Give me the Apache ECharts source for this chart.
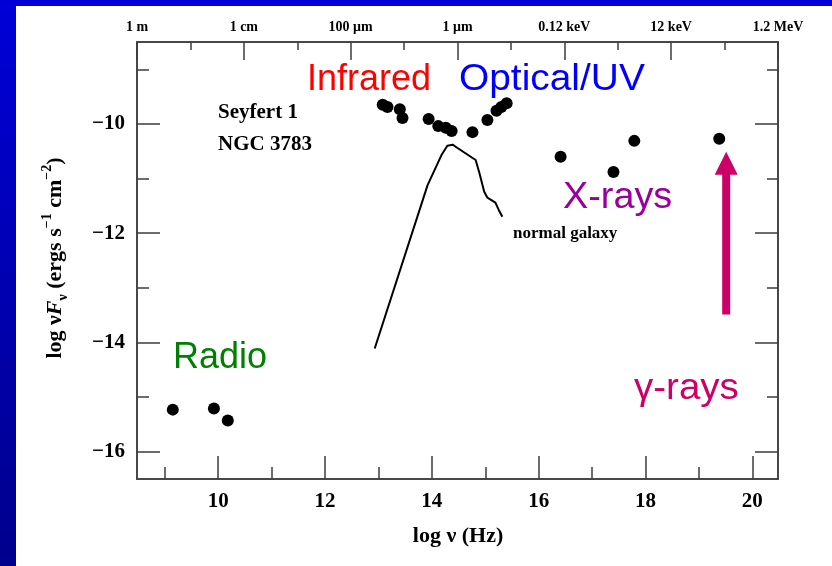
<!DOCTYPE html>
<html>
<head>
<meta charset="utf-8">
<script src="https://cdn.jsdelivr.net/npm/echarts@6/dist/echarts.min.js"></script>
<style>
  html, body { margin: 0; padding: 0; background: #ffffff; }
  #chart { width: 832px; height: 566px; }
</style>
</head>
<body>
<div id="chart"></div>
<script>
// Spectral energy distribution of NGC 3783: log nu (Hz) vs log nuF_nu (erg s^-1 cm^-2)
const radioNu = [9.15, 9.92, 10.18];
const radioFlux = [-15.23, -15.21, -15.43];

const irOpticalNu = [13.08, 13.17, 13.40, 13.45, 13.94, 14.12, 14.26, 14.37, 14.76, 15.04, 15.21, 15.30, 15.40];
const irOpticalFlux = [-9.65, -9.69, -9.73, -9.89, -9.91, -10.04, -10.07, -10.13, -10.15, -9.93, -9.76, -9.69, -9.62];

const xrayNu = [16.41, 17.40, 17.79, 19.38];
const xrayFlux = [-10.60, -10.88, -10.31, -10.27];

// template spectrum of a normal galaxy
const galaxyNu = [12.93, 13.92, 14.18, 14.29, 14.39, 14.48, 14.65, 14.82, 14.89, 14.98, 15.04, 15.19, 15.25, 15.32];
const galaxyFlux = [-14.11, -11.12, -10.57, -10.40, -10.38, -10.44, -10.55, -10.66, -10.90, -11.24, -11.35, -11.44, -11.57, -11.70];

// gamma-ray lower limit: [log nu, from, to]
const gammaLimit = [19.51, -13.49, -10.51];

// axis ranges and ticks
const X_MIN = 8.48, X_MAX = 20.48;
const Y_MIN = -16.5, Y_MAX = -8.5;
const xMajorTicks = [10, 12, 14, 16, 18, 20];
const xMinorTicks = [9, 11, 13, 15, 17, 19];
const yMajorTicks = [-16, -14, -12, -10];
const yMinorTicks = [-15, -13, -11, -9];
const topMajorTicks = [8.48, 10.48, 12.48, 14.48, 16.48, 18.48, 20.48];
const topMinorTicks = [9.48, 11.48, 13.48, 15.48, 17.48, 19.48];
const topTickLabels = ['1 m', '1 cm', '100 \u03bcm', '1 \u03bcm', '0.12 keV', '12 keV', '1.2 MeV'];

const AXIS_COLOR = '#3c3c3c';
const SERIF = '"Liberation Serif", "Times New Roman", serif';
const SANS = '"Liberation Sans", Arial, sans-serif';
const GAMMA_COLOR = '#cc0066';

const pairs = (xs, ys) => xs.map((x, i) => [x, ys[i]]);

function makeAxis(kind, position, ticks, tickLen, labels) {
  const isX = kind === 'x';
  return {
    type: 'value',
    position: position,
    min: isX ? X_MIN : Y_MIN,
    max: isX ? X_MAX : Y_MAX,
    axisLine: { show: true, onZero: false, lineStyle: { color: AXIS_COLOR, width: 1.5 } },
    axisTick: {
      show: true, inside: true, length: tickLen, customValues: ticks,
      lineStyle: { color: AXIS_COLOR, width: 1.5 }
    },
    axisLabel: labels ? Object.assign({
      show: true, customValues: ticks, showMinLabel: true, showMaxLabel: true,
      color: '#000', fontFamily: SERIF, fontWeight: 'bold'
    }, labels) : { show: false },
    splitLine: { show: false }
  };
}

const chart = echarts.init(document.getElementById('chart'), null, { renderer: 'canvas' });

const dotStyle = { color: '#000', opacity: 1 };

const option = {
  animation: false,
  backgroundColor: '#ffffff',
  grid: { left: 137, right: 54, top: 42, bottom: 87, containLabel: false },
  xAxis: [
    makeAxis('x', 'bottom', xMajorTicks, 23, {
      fontSize: 21, margin: 12,
      formatter: v => String(Math.round(v))
    }),
    makeAxis('x', 'bottom', xMinorTicks, 12, null),
    makeAxis('x', 'top', topMajorTicks, 18, {
      fontSize: 14, margin: 8,
      formatter: v => {
        const i = topMajorTicks.findIndex(t => Math.abs(t - v) < 1e-6);
        return i >= 0 ? topTickLabels[i] : '';
      }
    }),
    makeAxis('x', 'top', topMinorTicks, 8, null)
  ],
  yAxis: [
    makeAxis('y', 'left', yMajorTicks, 23, {
      fontSize: 21, margin: 12,
      formatter: v => '\u2212' + Math.abs(Math.round(v))
    }),
    makeAxis('y', 'left', yMinorTicks, 12, null),
    makeAxis('y', 'right', yMajorTicks, 23, null),
    makeAxis('y', 'right', yMinorTicks, 11, null)
  ],
  series: [
    {
      name: 'normal galaxy', type: 'line', data: pairs(galaxyNu, galaxyFlux),
      showSymbol: false, smooth: false,
      lineStyle: { color: '#000', width: 2 }, z: 2
    },
    {
      name: 'radio', type: 'scatter', data: pairs(radioNu, radioFlux),
      symbol: 'circle', symbolSize: 12, itemStyle: dotStyle, z: 3
    },
    {
      name: 'infrared-optical-UV', type: 'scatter', data: pairs(irOpticalNu, irOpticalFlux),
      symbol: 'circle', symbolSize: 12, itemStyle: dotStyle, z: 3
    },
    {
      name: 'x-ray', type: 'scatter', data: pairs(xrayNu, xrayFlux),
      symbol: 'circle', symbolSize: 12, itemStyle: dotStyle, z: 3
    },
    {
      name: 'gamma-ray limit', type: 'custom',
      data: [gammaLimit],
      encode: { x: 0, y: [1, 2] },
      renderItem: (params, api) => {
        const base = api.coord([api.value(0), api.value(1)]);
        const tip = api.coord([api.value(0), api.value(2)]);
        const headLen = 23, headW = 23, shaftW = 8;
        return {
          type: 'group',
          children: [
            {
              type: 'rect',
              shape: { x: base[0] - shaftW / 2, y: tip[1] + headLen - 1, width: shaftW, height: base[1] - tip[1] - headLen + 1 },
              style: { fill: GAMMA_COLOR }
            },
            {
              type: 'polygon',
              shape: { points: [[tip[0], tip[1]], [tip[0] - headW / 2, tip[1] + headLen], [tip[0] + headW / 2, tip[1] + headLen]] },
              style: { fill: GAMMA_COLOR }
            }
          ]
        };
      },
      z: 3
    }
  ],
  graphic: [
    // blue slide frame
    {
      type: 'rect', left: 0, top: 0, z: 100,
      shape: { width: 16, height: 566 },
      style: {
        fill: new echarts.graphic.LinearGradient(0, 0, 0, 1, [
          { offset: 0, color: '#0000d8' },
          { offset: 1, color: '#00008c' }
        ])
      }
    },
    { type: 'rect', left: 0, top: 0, z: 100, shape: { width: 832, height: 6 }, style: { fill: '#0000d6' } },

    // axis titles
    {
      type: 'text', x: 55, y: 258, rotation: Math.PI / 2, z: 50,
      style: {
        text: '{m|log \u03bd}{i|F}{s|\u03bd}{m| (ergs s}{p|\u22121}{m| cm}{p|\u22122}{m|)}',
        align: 'center', verticalAlign: 'middle',
        rich: {
          m: { fontFamily: SERIF, fontWeight: 'bold', fontSize: 22, fill: '#000', lineHeight: 34, verticalAlign: 'middle' },
          i: { fontFamily: SERIF, fontWeight: 'bold', fontStyle: 'italic', fontSize: 22, fill: '#000', lineHeight: 34, verticalAlign: 'middle' },
          s: { fontFamily: SERIF, fontWeight: 'bold', fontSize: 14, fill: '#000', lineHeight: 34, verticalAlign: 'bottom', padding: [0, 0, 2, 0] },
          p: { fontFamily: SERIF, fontWeight: 'bold', fontSize: 14, fill: '#000', lineHeight: 34, verticalAlign: 'top', padding: [2, 0, 0, 0] }
        }
      }
    },
    {
      type: 'text', x: 458, y: 536, z: 50,
      style: { text: 'log \u03bd (Hz)', fontFamily: SERIF, fontWeight: 'bold', fontSize: 22, fill: '#000', align: 'center', verticalAlign: 'middle' }
    },

    // object name
    { type: 'text', x: 218, y: 113, z: 50, style: { text: 'Seyfert 1', fontFamily: SERIF, fontWeight: 'bold', fontSize: 21, fill: '#000', align: 'left', verticalAlign: 'middle' } },
    { type: 'text', x: 218, y: 145, z: 50, style: { text: 'NGC 3783', fontFamily: SERIF, fontWeight: 'bold', fontSize: 21, fill: '#000', align: 'left', verticalAlign: 'middle' } },
    { type: 'text', x: 513, y: 234, z: 50, style: { text: 'normal galaxy', fontFamily: SERIF, fontWeight: 'bold', fontSize: 17, fill: '#000', align: 'left', verticalAlign: 'middle' } },

    // band labels
    { type: 'text', x: 307, y: 80, z: 50, style: { text: 'Infrared', fontFamily: SANS, fontSize: 36, fill: '#ff0000', align: 'left', verticalAlign: 'middle' } },
    { type: 'text', x: 459, y: 80, z: 50, scaleX: 1.08, style: { text: 'Optical/UV', fontFamily: SANS, fontSize: 36, fill: '#0000ff', align: 'left', verticalAlign: 'middle' } },
    { type: 'text', x: 563, y: 198, z: 50, scaleX: 1.05, style: { text: 'X-rays', fontFamily: SANS, fontSize: 36, fill: '#990099', align: 'left', verticalAlign: 'middle' } },
    { type: 'text', x: 173, y: 358, z: 50, style: { text: 'Radio', fontFamily: SANS, fontSize: 36, fill: '#008000', align: 'left', verticalAlign: 'middle' } },
    { type: 'text', x: 634, y: 389, z: 50, scaleX: 1.07, style: { text: '\u03b3-rays', fontFamily: SANS, fontSize: 36, fill: GAMMA_COLOR, align: 'left', verticalAlign: 'middle' } }
  ]
};

chart.setOption(option);
</script>
</body>
</html>
